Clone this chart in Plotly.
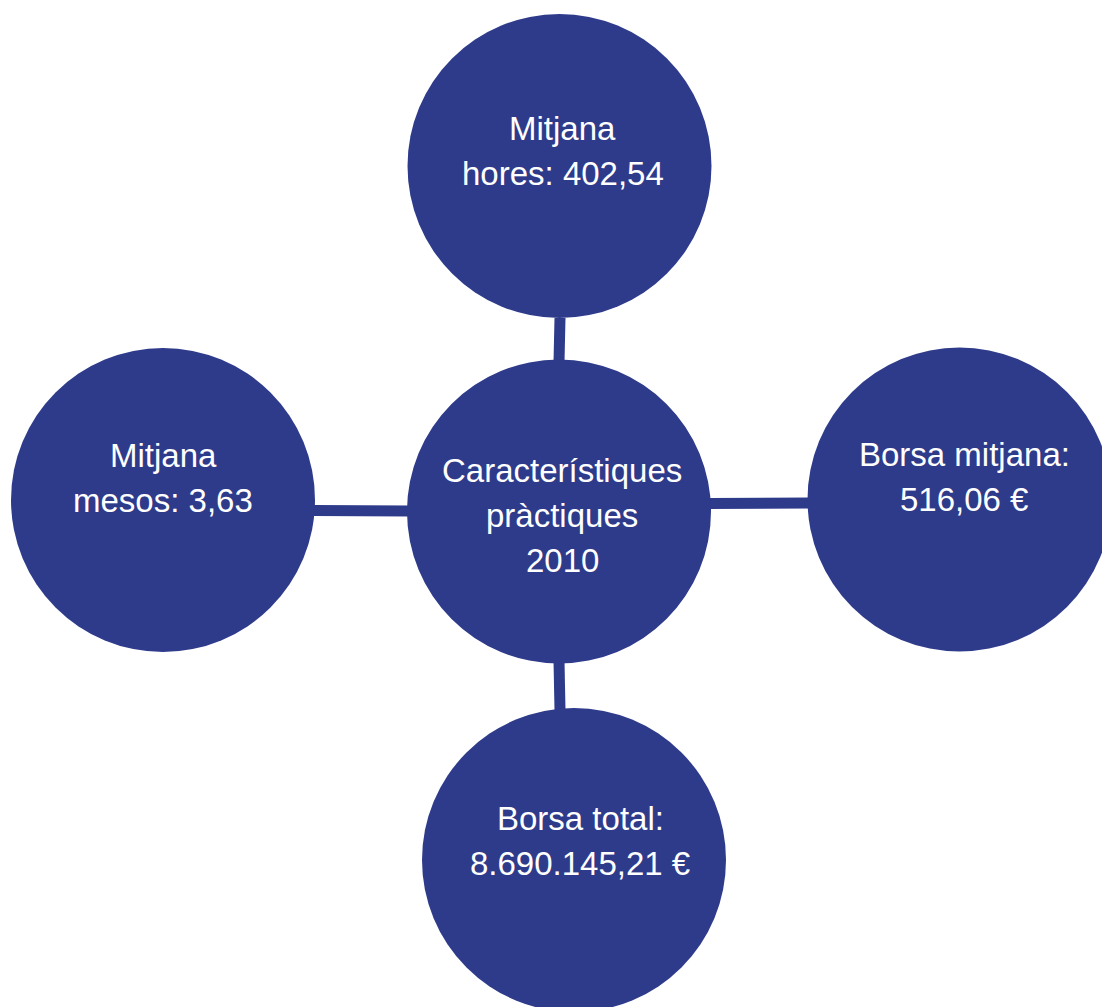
import plotly.graph_objects as go

# ---- content ----
center_lines = ["Característiques", "pràctiques", "2010"]
node_labels = [
    ["Mitjana", "hores: 402,54"],
    ["Mitjana", "mesos: 3,63"],
    ["Borsa mitjana:", "516,06 €"],
    ["Borsa total:", "8.690.145,21 €"],
]

# ---- layout (pixel coordinates, y downward) ----
W, H = 1102, 1007
center_pos = (559, 511.5)
node_pos = [(559.5, 166), (163, 500), (959.5, 499.5), (574, 860)]
radius = 152
text_pos = [(562.5, 163), (163, 490), (964, 489), (580, 853)]
center_text_x = 562
center_text_y0 = 482.5
line_gap = 45
connectors = [
    ((560, 318), (559, 362)),
    ((314, 510.5), (409, 511)),
    ((709, 503.5), (809, 503)),
    ((559, 661), (560, 710)),
]

COLOR = "#2E3B8B"
FONT = dict(family="Liberation Sans, Arial, Helvetica, sans-serif", size=33, color="white")

fig = go.Figure()

# connectors as line traces
for (x0, y0), (x1, y1) in connectors:
    fig.add_trace(go.Scatter(x=[x0, x1], y=[y0, y1], mode="lines",
                             line=dict(color=COLOR, width=11),
                             hoverinfo="skip", showlegend=False))

shapes = []
for cx, cy in [center_pos] + node_pos:
    shapes.append(dict(type="circle", xref="x", yref="y",
                       x0=cx - radius, x1=cx + radius,
                       y0=cy - radius, y1=cy + radius,
                       fillcolor=COLOR, line=dict(width=0), layer="above"))

annotations = []
for i, line in enumerate(center_lines):
    annotations.append(dict(x=center_text_x, y=center_text_y0 + i * line_gap - 12,
                            text=line, showarrow=False, xref="x", yref="y",
                            xanchor="center", yanchor="middle", font=FONT))
for (tx, tb), lines in zip(text_pos, node_labels):
    b0 = tb - 23
    for i, line in enumerate(lines):
        annotations.append(dict(x=tx, y=b0 + i * line_gap - 12,
                                text=line, showarrow=False, xref="x", yref="y",
                                xanchor="center", yanchor="middle", font=FONT))

fig.update_layout(
    width=W, height=H,
    margin=dict(l=0, r=0, t=0, b=0),
    paper_bgcolor="white", plot_bgcolor="white",
    xaxis=dict(range=[0, W], visible=False, fixedrange=True),
    yaxis=dict(range=[H, 0], visible=False, fixedrange=True),
    shapes=shapes, annotations=annotations,
    showlegend=False,
)

fig.write_html("out.html", config={"displayModeBar": False},
               post_script="document.body.style.margin='0';document.body.style.overflow='hidden';")
